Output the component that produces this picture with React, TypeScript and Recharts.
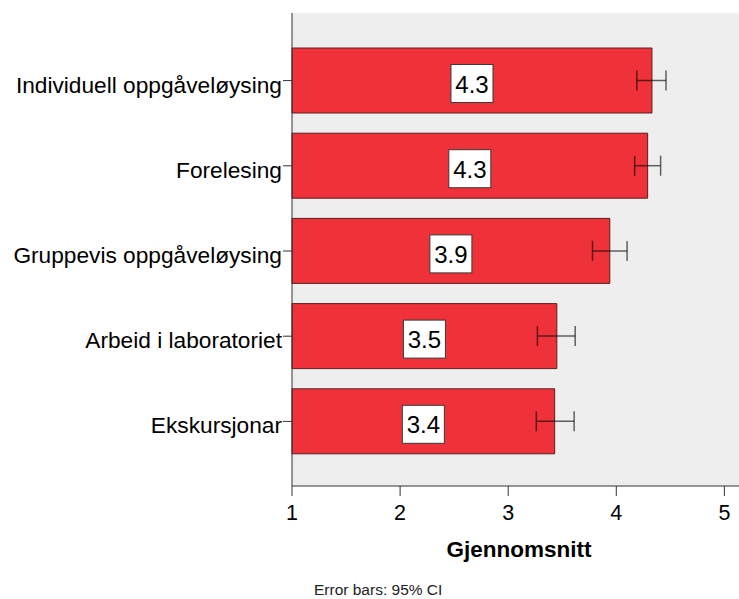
import { BarChart, Bar, XAxis, YAxis, CartesianGrid, ErrorBar, LabelList } from "recharts";

const categories = [
  "Individuell oppgåveløysing",
  "Forelesing",
  "Gruppevis oppgåveløysing",
  "Arbeid i laboratoriet",
  "Ekskursjonar",
];
const means = [4.33, 4.29, 3.94, 3.45, 3.43];
const ciLow = [4.19, 4.17, 3.78, 3.27, 3.26];
const ciHigh = [4.46, 4.41, 4.1, 3.62, 3.61];
const meanLabels = ["4.3", "4.3", "3.9", "3.5", "3.4"];
const xTicks = [1, 2, 3, 4, 5];

const FONT = "'Liberation Sans', Arial, sans-serif";

const rows = categories.map((name, i) => ({
  name,
  mean: means[i],
  label: meanLabels[i],
  ci: [means[i] - ciLow[i], ciHigh[i] - means[i]],
}));

function CategoryTick({ x, y, payload }: any) {
  return (
    <text x={x} y={y + 12} textAnchor="end" fontSize={22.7} fontFamily={FONT} fill="#000">
      {payload.value}
    </text>
  );
}

function ValueTick({ x, y, payload }: any) {
  return (
    <text x={x} y={y + 15} textAnchor="middle" fontSize={21.5} fontFamily={FONT} fill="#000">
      {payload.value}
    </text>
  );
}

function MeanBox({ x, y, width, height, value }: any) {
  const cx = x + width / 2;
  const cy = y + height / 2 + 3;
  return (
    <g>
      <rect x={cx - 21} y={cy - 19} width={42} height={38} fill="#fff" stroke="#3a3a3a" strokeWidth={1} />
      <text x={cx} y={cy + 9} textAnchor="middle" fontSize={24} fontFamily={FONT} fill="#000">
        {value}
      </text>
    </g>
  );
}

export default function App() {
  return (
    <div style={{ position: "absolute", left: 0, top: 0, width: 739, height: 599, overflow: "hidden", background: "#fff" }}>
      <BarChart
        width={750}
        height={599}
        data={rows}
        layout="vertical"
        margin={{ top: 13, right: 4, bottom: 33, left: 0 }}
      >
        <CartesianGrid fill="#eeeeee" horizontal={false} vertical={false} />
        <XAxis
          type="number"
          domain={[1, 5.2]}
          ticks={xTicks}
          height={80}
          tickSize={10}
          tickMargin={9}
          tick={<ValueTick />}
          axisLine={{ stroke: "#333" }}
          tickLine={{ stroke: "#333" }}
          label={{
            value: "Gjennomsnitt",
            position: "insideBottom",
            offset: 9,
            fontSize: 22.5,
            fontWeight: "bold",
            fontFamily: FONT,
            fill: "#000",
          }}
        />
        <XAxis
          xAxisId="top"
          orientation="top"
          type="number"
          domain={[1, 5.2]}
          height={0}
          tick={false}
          tickLine={false}
          axisLine={{ stroke: "#8a8a8a" }}
        />
        <YAxis
          type="category"
          dataKey="name"
          width={292}
          tickSize={9}
          tickMargin={1}
          padding={{ top: 25, bottom: 22 }}
          tick={<CategoryTick />}
          axisLine={{ stroke: "#333" }}
          tickLine={{ stroke: "#333" }}
          interval={0}
        />
        <Bar dataKey="mean" barSize={65} fill="#ef3239" stroke="#5a1f1f" strokeWidth={1} isAnimationActive={false}>
          <ErrorBar dataKey="ci" direction="x" width={10} stroke="#000" strokeOpacity={0.6} strokeWidth={1.5} isAnimationActive={false} />
          <LabelList dataKey="label" content={<MeanBox />} />
        </Bar>
      </BarChart>
      <div
        style={{
          position: "absolute",
          left: 314,
          top: 582,
          fontFamily: FONT,
          fontSize: 15.5,
          lineHeight: "15.5px",
          color: "#222",
          whiteSpace: "nowrap",
        }}
      >
        Error bars: 95% CI
      </div>
    </div>
  );
}
